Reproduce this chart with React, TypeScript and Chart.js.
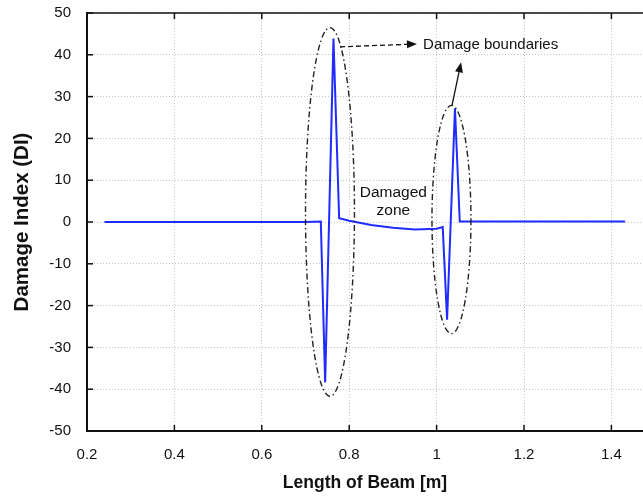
import { useEffect, useRef } from "react";
import { Chart, registerables } from "chart.js";

Chart.register(...registerables);

// ---- data ----
const beamLength = [0.24, 0.53, 0.7, 0.735, 0.745, 0.764, 0.777, 0.8, 0.85, 0.9, 0.95, 1.0, 1.014, 1.024, 1.042, 1.053, 1.35, 1.431];
const damageIndex = [0, 0, 0, 0.1, -38.4, 43.9, 0.9, 0.3, -0.7, -1.4, -1.8, -1.6, -1.2, -23.4, 27.2, 0.1, 0.1, 0.1];
const xTickValues = [0.2, 0.4, 0.6, 0.8, 1.0, 1.2, 1.4];
const yTickValues = [-50, -40, -30, -20, -10, 0, 10, 20, 30, 40, 50];
const xTitle = "Length of Beam [m]";
const yTitle = "Damage Index (DI)";
const boundaryLabel = "Damage boundaries";
const zoneLabel = ["Damaged", "zone"];

// annotation geometry (data units)
const ellipseCenterX = [0.756, 1.034];
const ellipseCenterY = [2.4, 0.6];
const ellipseRadiusX = [0.056, 0.0446];
const ellipseRadiusY = [44.1, 27.3];

const FONT = "'Liberation Sans', Arial, Helvetica, sans-serif";

function arrow(ctx: CanvasRenderingContext2D, x1: number, y1: number, x2: number, y2: number, dash: number[]) {
  const ang = Math.atan2(y2 - y1, x2 - x1);
  const head = 10;
  const hw = 4;
  const bx = x2 - head * Math.cos(ang);
  const by = y2 - head * Math.sin(ang);
  ctx.setLineDash(dash);
  ctx.beginPath();
  ctx.moveTo(x1, y1);
  ctx.lineTo(bx, by);
  ctx.stroke();
  ctx.setLineDash([]);
  ctx.beginPath();
  ctx.moveTo(x2, y2);
  ctx.lineTo(bx + hw * Math.sin(ang), by - hw * Math.cos(ang));
  ctx.lineTo(bx - hw * Math.sin(ang), by + hw * Math.cos(ang));
  ctx.closePath();
  ctx.fill();
}

const decorPlugin = {
  id: "decor",
  afterDraw(chart: any) {
    const ctx: CanvasRenderingContext2D = chart.ctx;
    const xs = chart.scales.x;
    const ys = chart.scales.y;
    const { left, right, top, bottom } = chart.chartArea;
    ctx.save();
    // top frame line
    ctx.strokeStyle = "#111";
    ctx.lineWidth = 1.5;
    ctx.beginPath();
    ctx.moveTo(left, top);
    ctx.lineTo(right, top);
    ctx.stroke();
    // inside tick marks
    ctx.lineWidth = 1.5;
    for (const t of xTickValues) {
      const px = xs.getPixelForValue(t);
      ctx.beginPath();
      ctx.moveTo(px, bottom);
      ctx.lineTo(px, bottom - 6);
      ctx.moveTo(px, top);
      ctx.lineTo(px, top + 6);
      ctx.stroke();
    }
    for (const t of yTickValues) {
      const py = ys.getPixelForValue(t);
      ctx.beginPath();
      ctx.moveTo(left, py);
      ctx.lineTo(left + 6, py);
      ctx.stroke();
    }
    // ellipses
    ctx.strokeStyle = "#222";
    ctx.lineWidth = 1.4;
    ctx.setLineDash([6, 3, 1.5, 3]);
    for (let i = 0; i < ellipseCenterX.length; i++) {
      const cx = xs.getPixelForValue(ellipseCenterX[i]);
      const cy = ys.getPixelForValue(ellipseCenterY[i]);
      const rx = xs.getPixelForValue(ellipseCenterX[i] + ellipseRadiusX[i]) - cx;
      const ry = cy - ys.getPixelForValue(ellipseCenterY[i] + ellipseRadiusY[i]);
      ctx.beginPath();
      ctx.ellipse(cx, cy, rx, ry, 0, 0, Math.PI * 2);
      ctx.stroke();
    }
    // arrows
    ctx.setLineDash([]);
    ctx.fillStyle = "#111";
    ctx.strokeStyle = "#111";
    ctx.lineWidth = 1.3;
    arrow(ctx, xs.getPixelForValue(0.779), ys.getPixelForValue(41.9), xs.getPixelForValue(0.955), ys.getPixelForValue(42.6), [5, 3]);
    arrow(ctx, xs.getPixelForValue(1.035), ys.getPixelForValue(27.8), xs.getPixelForValue(1.056), ys.getPixelForValue(38.2), []);
    // texts
    ctx.font = `15px ${FONT}`;
    ctx.fillStyle = "#111";
    ctx.textBaseline = "middle";
    ctx.textAlign = "left";
    ctx.fillText(boundaryLabel, xs.getPixelForValue(0.969), ys.getPixelForValue(42.4));
    ctx.font = `15.5px ${FONT}`;
    ctx.textAlign = "center";
    ctx.fillText(zoneLabel[0], xs.getPixelForValue(0.901), ys.getPixelForValue(6.9));
    ctx.fillText(zoneLabel[1], xs.getPixelForValue(0.901), ys.getPixelForValue(2.6));
    ctx.restore();
  },
};

export default function App() {
  const ref = useRef<HTMLCanvasElement | null>(null);
  useEffect(() => {
    if (!ref.current) return;
    Chart.defaults.font.family = FONT;
    const chart = new Chart(ref.current, {
      type: "line",
      data: {
        datasets: [
          {
            data: beamLength.map((x, i) => ({ x, y: damageIndex[i] })),
            borderColor: "#1f2bff",
            borderWidth: 2,
            pointRadius: 0,
            tension: 0,
            fill: false,
          },
        ],
      },
      options: {
        animation: false,
        responsive: true,
        maintainAspectRatio: false,
        layout: { padding: { top: 13, left: 0, right: 0, bottom: 0 } },
        plugins: { legend: { display: false }, tooltip: { enabled: false } },
        scales: {
          x: {
            type: "linear",
            min: 0.2,
            max: 1.4723,
            afterBuildTicks: (s: any) => {
              s.ticks = xTickValues.map((v) => ({ value: v }));
            },
            afterFit: (s: any) => {
              s.height = 65;
              s.paddingLeft = 0;
              s.paddingRight = 0;
            },
            ticks: {
              color: "#111",
              font: { size: 15 },
              padding: 15,
              maxRotation: 0,
              callback: (v: any) => String(Number(Number(v).toFixed(1))),
            },
            grid: { color: "#c4c4c4", lineWidth: 1, drawTicks: false },
            border: { color: "#111", width: 2, dash: [1, 2] },
            title: { display: true, text: xTitle, color: "#111", font: { size: 17.5, weight: "bold" }, padding: { top: 0, bottom: 2.5 } },
          },
          y: {
            type: "linear",
            min: -50,
            max: 50,
            afterBuildTicks: (s: any) => {
              s.ticks = yTickValues.map((v) => ({ value: v }));
            },
            afterFit: (s: any) => {
              s.width = 87;
              s.paddingTop = 0;
              s.paddingBottom = 0;
            },
            ticks: { color: "#111", font: { size: 15 }, padding: 16 },
            grid: { color: "#c4c4c4", lineWidth: 1, drawTicks: false },
            border: { color: "#111", width: 2, dash: [1, 2] },
            title: { display: true, text: yTitle, color: "#111", font: { size: 20.5, weight: "bold" }, padding: { top: 10, bottom: 0 } },
          },
        },
      },
      plugins: [decorPlugin],
    });
    return () => chart.destroy();
  }, []);
  return (
    <div style={{ position: "absolute", left: 0, top: 0, width: 643, height: 496 }}>
      <canvas ref={ref} />
    </div>
  );
}
